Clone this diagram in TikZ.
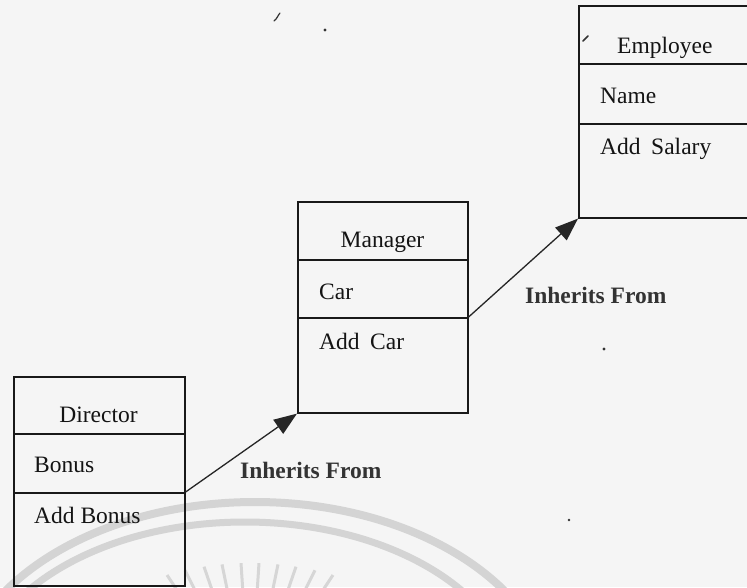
\documentclass[tikz,border=0pt]{standalone}
\usepackage{fontspec}
\setmainfont{Liberation Serif}
\usetikzlibrary{arrows.meta,calc}

\tikzset{
  compart/.style={draw=black!90, line width=1.6pt, rectangle, inner sep=0pt,
                  anchor=north west},
  memb/.style={anchor=base west, inner sep=0pt, text=black!92,
               font=\fontsize{23.5}{28}\selectfont},
  title/.style={memb, anchor=base},
  inh/.style={draw=black!85, line width=1.3pt,
              -{Triangle[length=23pt,width=17pt]}, fill=black!72},
  inhlabel/.style={anchor=base west, inner sep=0pt, text=black!80,
                   font=\fontsize{23.5}{28}\selectfont\bfseries},
  emblem/.style={draw=black!17, line width=8pt},
  ray/.style={draw=black!16, line width=3pt},
  speck/.style={fill=black!80}
}

\begin{document}
\begin{tikzpicture}[x=1pt, y=-1pt]
  \clip (0,0) rectangle (747,587);
  \fill[white!96!black] (0,0) rectangle (747,587);

  % faint emblem along the bottom of the page (y axis points down)
  \draw[emblem] (-45,702) arc[start angle=180, end angle=360, x radius=300, y radius=200];
  \draw[emblem, line width=7pt] (-25,692) arc[start angle=180, end angle=360, x radius=270, y radius=170];
  \coordinate (hub) at (250,700);
  \foreach \x/\y in {167/575, 185/570.3, 204/566.7, 222/564.4, 241/563.1,
                     259/563.1, 278/564.4, 296/566.7, 315/570.3, 333/575}
    \draw[ray] (\x,\y) -- ($(\x,\y)!40pt!(hub)$);

  % small specks of the print
  \fill[speck] (325,30) circle (1.7);
  \fill[speck] (604,349) circle (1.7);
  \fill[speck] (569,520) circle (1.3);
  \draw[black!80, line width=1.2pt, line cap=round] (274,21) .. controls (277,19) and (278,15) .. (280,13);
  \draw[black!80, line width=1.6pt, line cap=round] (583,41) -- (588,36);

  % Director class
  \node[compart, minimum width=171pt, minimum height=57pt] (dirH) at (13,376) {};
  \node[compart, minimum width=171pt, minimum height=59pt] (dirA) at (13,433) {};
  \node[compart, minimum width=171pt, minimum height=93pt] (dirO) at (13,492) {};
  \node[title] (dirT) at (98.5,422) {Director};
  \node[memb] (dirAt) at (34,472) {Bonus};
  \node[memb] (dirOp) at (34,523) {Add Bonus};

  % Manager class
  \node[compart, minimum width=170pt, minimum height=58pt] (mgrH) at (297,201) {};
  \node[compart, minimum width=170pt, minimum height=58pt] (mgrA) at (297,259) {};
  \node[compart, minimum width=170pt, minimum height=95pt] (mgrO) at (297,317) {};
  \node[title] (mgrT) at (382.5,247) {Manager};
  \node[memb] (mgrAt) at (319,299) {Car};
  \node[memb] (mgrOp) at (319,349) {Add\hspace{0.45em}Car};

  % Employee class
  \node[compart, minimum width=185pt, minimum height=58pt] (empH) at (578,5) {};
  \node[compart, minimum width=185pt, minimum height=60pt] (empA) at (578,63) {};
  \node[compart, minimum width=185pt, minimum height=94pt] (empO) at (578,123) {};
  \node[memb] (empT) at (617,53) {Employee};
  \node[memb] (empAt) at (600,103) {Name};
  \node[memb] (empOp) at (600,154) {Add\hspace{0.45em}Salary};

  % inheritance links
  \draw[inh] (dirO.north east) -- (mgrO.south west);
  \draw[inh] (mgrO.north east) -- (empO.south west);
  \node[inhlabel] (lab1) at (240,478) {Inherits From};
  \node[inhlabel] (lab2) at (525,303) {Inherits From};
\end{tikzpicture}
\end{document}
